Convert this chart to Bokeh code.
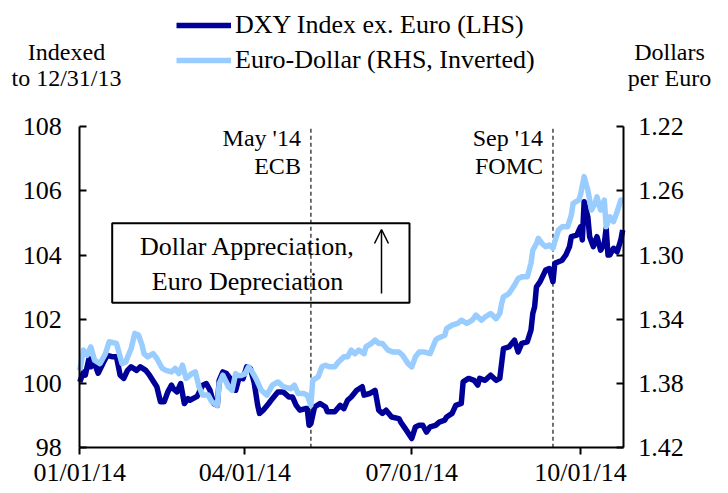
import pandas as pd
from bokeh.plotting import figure
from bokeh.models import (Range1d, LinearAxis, FixedTicker, DatetimeTickFormatter,
                          NumeralTickFormatter, Label, BoxAnnotation, Arrow,
                          OpenHead, Legend, LegendItem, ColumnDataSource)
from bokeh.embed import file_html
from bokeh.resources import INLINE

# ---------------- data ----------------
dxy_dates = [
    "2014-01-01", "2014-01-03", "2014-01-04", "2014-01-06", "2014-01-07", "2014-01-09",
    "2014-01-11", "2014-01-14", "2014-01-16", "2014-01-19", "2014-01-21", "2014-01-23",
    "2014-01-25", "2014-01-27", "2014-01-29", "2014-02-01", "2014-02-03", "2014-02-06",
    "2014-02-08", "2014-02-12", "2014-02-14", "2014-02-16", "2014-02-18", "2014-02-20",
    "2014-02-21", "2014-02-23", "2014-02-25", "2014-02-27", "2014-03-01", "2014-03-02",
    "2014-03-06", "2014-03-09", "2014-03-11", "2014-03-13", "2014-03-15", "2014-03-17",
    "2014-03-18", "2014-03-20", "2014-03-22", "2014-03-24", "2014-03-26", "2014-03-27",
    "2014-03-29", "2014-03-31", "2014-04-02", "2014-04-04", "2014-04-06", "2014-04-08",
    "2014-04-09", "2014-04-11", "2014-04-14", "2014-04-16", "2014-04-19", "2014-04-22",
    "2014-04-25", "2014-04-27", "2014-04-29", "2014-05-01", "2014-05-04", "2014-05-05",
    "2014-05-06", "2014-05-07", "2014-05-09", "2014-05-12", "2014-05-15", "2014-05-16",
    "2014-05-18", "2014-05-20", "2014-05-23", "2014-05-25", "2014-05-27", "2014-05-29",
    "2014-06-01", "2014-06-04", "2014-06-05", "2014-06-08", "2014-06-11", "2014-06-13",
    "2014-06-15", "2014-06-17", "2014-06-20", "2014-06-24", "2014-06-25", "2014-06-28",
    "2014-07-01", "2014-07-03", "2014-07-05", "2014-07-07", "2014-07-09", "2014-07-11",
    "2014-07-14", "2014-07-16", "2014-07-19", "2014-07-20", "2014-07-23", "2014-07-25",
    "2014-07-28", "2014-07-29", "2014-08-01", "2014-08-04", "2014-08-06", "2014-08-07",
    "2014-08-10", "2014-08-13", "2014-08-16", "2014-08-18", "2014-08-20", "2014-08-23",
    "2014-08-26", "2014-08-28", "2014-08-30", "2014-09-02", "2014-09-04", "2014-09-05",
    "2014-09-06", "2014-09-07", "2014-09-09", "2014-09-12", "2014-09-14", "2014-09-16",
    "2014-09-17", "2014-09-19", "2014-09-21", "2014-09-23", "2014-09-25", "2014-09-26",
    "2014-09-29", "2014-10-01", "2014-10-02", "2014-10-03", "2014-10-05", "2014-10-06",
    "2014-10-08", "2014-10-10", "2014-10-12", "2014-10-14", "2014-10-15", "2014-10-16",
    "2014-10-17", "2014-10-19", "2014-10-21", "2014-10-23", "2014-10-24",
]
dxy_values = [
    100.05, 100.36, 100.26, 100.78, 100.52, 100.63,
    100.32, 100.67, 100.88, 100.83, 100.83, 100.26,
    100.16, 100.41, 100.52, 100.41, 100.52, 100.41,
    100.26, 99.90, 99.43, 99.43, 99.74, 99.95,
    99.84, 99.74, 100.00, 99.38, 99.53, 99.48,
    99.60, 99.95, 100.00, 99.79, 99.38, 99.32,
    100.10, 100.36, 100.31, 100.16, 99.95, 99.79,
    100.21, 100.15, 100.52, 100.47, 100.05, 99.32,
    99.07, 99.17, 99.38, 99.53, 99.74, 99.74,
    99.58, 99.58, 99.32, 99.17, 99.22, 99.22,
    98.70, 98.75, 99.27, 99.38, 99.27, 99.12,
    99.12, 99.12, 99.32, 99.22, 99.48, 99.58,
    99.79, 99.90, 99.64, 99.69, 99.79, 99.17,
    99.07, 99.17, 98.96, 98.91, 98.80, 98.55,
    98.29, 98.65, 98.70, 98.70, 98.49, 98.65,
    98.70, 98.80, 98.86, 98.96, 99.07, 99.32,
    99.38, 100.05, 100.16, 100.10, 99.95, 100.16,
    100.10, 100.26, 100.10, 100.16, 101.09, 101.14,
    101.35, 100.98, 101.25, 101.30, 101.66, 102.18,
    102.39, 103.01, 103.17, 103.53, 103.58, 103.17,
    103.74, 103.79, 103.84, 104.00, 104.26, 104.57,
    104.62, 104.88, 104.47, 105.66, 105.19, 104.57,
    104.26, 104.57, 104.15, 104.36, 104.83, 104.00,
    104.00, 104.21, 104.10, 104.47, 104.78,
]

eur_dates = [
    "2014-01-01", "2014-01-03", "2014-01-05", "2014-01-07", "2014-01-09", "2014-01-12",
    "2014-01-15", "2014-01-17", "2014-01-21", "2014-01-24", "2014-01-26", "2014-01-29",
    "2014-01-31", "2014-02-02", "2014-02-04", "2014-02-05", "2014-02-07", "2014-02-10",
    "2014-02-12", "2014-02-14", "2014-02-15", "2014-02-17", "2014-02-20", "2014-02-22",
    "2014-02-24", "2014-02-26", "2014-02-28", "2014-03-03", "2014-03-05", "2014-03-07",
    "2014-03-09", "2014-03-12", "2014-03-14", "2014-03-17", "2014-03-18", "2014-03-20",
    "2014-03-23", "2014-03-25", "2014-03-27", "2014-03-28", "2014-03-30", "2014-04-01",
    "2014-04-03", "2014-04-05", "2014-04-07", "2014-04-10", "2014-04-13", "2014-04-16",
    "2014-04-19", "2014-04-22", "2014-04-26", "2014-04-28", "2014-04-30", "2014-05-03",
    "2014-05-05", "2014-05-07", "2014-05-08", "2014-05-11", "2014-05-13", "2014-05-15",
    "2014-05-17", "2014-05-20", "2014-05-22", "2014-05-25", "2014-05-27", "2014-05-29",
    "2014-05-31", "2014-06-02", "2014-06-05", "2014-06-06", "2014-06-09", "2014-06-11",
    "2014-06-13", "2014-06-15", "2014-06-18", "2014-06-21", "2014-06-24", "2014-06-26",
    "2014-06-29", "2014-07-01", "2014-07-03", "2014-07-05", "2014-07-08", "2014-07-11",
    "2014-07-14", "2014-07-15", "2014-07-19", "2014-07-20", "2014-07-23", "2014-07-26",
    "2014-07-28", "2014-07-31", "2014-08-03", "2014-08-05", "2014-08-08", "2014-08-10",
    "2014-08-13", "2014-08-16", "2014-08-18", "2014-08-19", "2014-08-20", "2014-08-23",
    "2014-08-26", "2014-08-28", "2014-08-30", "2014-09-02", "2014-09-04", "2014-09-05",
    "2014-09-07", "2014-09-08", "2014-09-10", "2014-09-12", "2014-09-14", "2014-09-16",
    "2014-09-17", "2014-09-19", "2014-09-21", "2014-09-24", "2014-09-26", "2014-09-27",
    "2014-09-30", "2014-10-01", "2014-10-03", "2014-10-05", "2014-10-07", "2014-10-09",
    "2014-10-10", "2014-10-12", "2014-10-14", "2014-10-15", "2014-10-17", "2014-10-19",
    "2014-10-21", "2014-10-23", "2014-10-24",
]
eur_values = [
    1.3718, 1.3592, 1.3624, 1.3572, 1.3654, 1.3676,
    1.3614, 1.3540, 1.3550, 1.3676, 1.3666, 1.3582,
    1.3488, 1.3498, 1.3562, 1.3614, 1.3634, 1.3614,
    1.3644, 1.3686, 1.3706, 1.3718, 1.3728, 1.3706,
    1.3738, 1.3686, 1.3768, 1.3738, 1.3728, 1.3820,
    1.3872, 1.3872, 1.3914, 1.3936, 1.3800, 1.3748,
    1.3820, 1.3842, 1.3738, 1.3750, 1.3750, 1.3740,
    1.3696, 1.3728, 1.3768, 1.3842, 1.3872, 1.3810,
    1.3790, 1.3820, 1.3832, 1.3810, 1.3862, 1.3862,
    1.3872, 1.3936, 1.3780, 1.3758, 1.3696, 1.3686,
    1.3696, 1.3696, 1.3666, 1.3634, 1.3634, 1.3592,
    1.3614, 1.3592, 1.3614, 1.3572, 1.3550, 1.3530,
    1.3550, 1.3550, 1.3592, 1.3604, 1.3604, 1.3624,
    1.3676, 1.3696, 1.3634, 1.3604, 1.3604, 1.3614,
    1.3530, 1.3520, 1.3500, 1.3458, 1.3436, 1.3426,
    1.3406, 1.3426, 1.3406, 1.3374, 1.3406, 1.3386,
    1.3364, 1.3396, 1.3364, 1.3302, 1.3260, 1.3240,
    1.3188, 1.3146, 1.3136, 1.3136, 1.3052, 1.2970,
    1.2928, 1.2896, 1.2928, 1.2948, 1.2938, 1.2958,
    1.2918, 1.2844, 1.2824, 1.2824, 1.2752, 1.2678,
    1.2658, 1.2626, 1.2512, 1.2596, 1.2720, 1.2678,
    1.2638, 1.2720, 1.2658, 1.2824, 1.2762, 1.2792,
    1.2730, 1.2658, 1.2668,
]

event_dates = ["2014-05-07", "2014-09-16"]
event_names = ["May '14", "Sep '14"]
event_bodies = ["ECB", "FOMC"]

x_tick_dates = ["2014-01-01", "2014-04-01", "2014-07-01", "2014-10-01"]
x_start, x_end = "2014-01-01", "2014-10-24 07:00"
left_ticks = [98, 100, 102, 104, 106, 108]
right_ticks = [1.22, 1.26, 1.30, 1.34, 1.38, 1.42]

series_names = ["DXY Index ex. Euro (LHS)", "Euro-Dollar (RHS, Inverted)"]
left_title = ["Indexed", "to 12/31/13"]
right_title = ["Dollars", "per Euro"]
box_text = ["Dollar Appreciation,", "Euro Depreciation"]

# ---------------- layout (pixels) ----------------
W, H = 720, 493
PX_L, PX_R, PX_T, PX_B = 79.3, 622.7, 126.0, 447.3   # plot area edges on canvas

FONT = "Liberation Serif"
DARK = "#000099"
LIGHT = "#99CCFF"


def ms(d):
    return pd.Timestamp(d).value / 1e6


# ranges extended so that the frame is the whole canvas; axes are pinned
x0, x1 = ms(x_start), ms(x_end)
xpp = (x1 - x0) / (PX_R - PX_L)
y0, y1 = left_ticks[0], left_ticks[-1]
ypp = (y1 - y0) / (PX_B - PX_T)
e_lo, e_hi = right_ticks[0], right_ticks[-1]
epp = (e_hi - e_lo) / (PX_B - PX_T)

p = figure(
    width=W, height=H, min_border=0,
    x_axis_type="datetime",
    x_range=Range1d(start=x0 - PX_L * xpp, end=x1 + (W - PX_R) * xpp),
    y_range=Range1d(start=y0 - (H - PX_B) * ypp, end=y1 + PX_T * ypp),
    output_backend="svg", toolbar_location=None,
    background_fill_color="white", border_fill_color="white",
)
p.outline_line_color = None
p.xgrid.visible = False
p.ygrid.visible = False
p.extra_y_ranges = {"eur": Range1d(start=e_hi + (H - PX_B) * epp, end=e_lo - PX_T * epp)}

src_dxy = ColumnDataSource(dict(x=pd.to_datetime(dxy_dates), y=dxy_values))
src_eur = ColumnDataSource(dict(x=pd.to_datetime(eur_dates), y=eur_values))

# event lines (drawn first, beneath the series)
p.segment(x0=[ms(d) for d in event_dates], y0=[y0] * len(event_dates),
          x1=[ms(d) for d in event_dates], y1=[y1] * len(event_dates),
          line_color="#444444", line_dash="4 3", line_width=1.5)

r_dxy = p.line("x", "y", source=src_dxy, line_color=DARK, line_width=5.5, line_join="round")
r_eur = p.line("x", "y", source=src_eur, line_color=LIGHT, line_width=5.5, line_join="round",
               y_range_name="eur")

# axes
right_axis = LinearAxis(y_range_name="eur")
p.add_layout(right_axis, "right")


def style_axis(ax):
    ax.axis_line_color = "black"
    ax.axis_line_width = 2
    ax.major_tick_line_color = "black"
    ax.major_tick_line_width = 2
    ax.minor_tick_line_color = None
    ax.major_label_text_font = FONT
    ax.major_label_text_font_size = "26px"
    ax.major_label_text_color = "black"


for ax in [p.xaxis[0], p.yaxis[0], right_axis]:
    style_axis(ax)

xa = p.xaxis[0]
xa.fixed_location = y0
xa.bounds = (x0, x1)
xa.ticker = FixedTicker(ticks=[ms(d) for d in x_tick_dates])
fmt = "%m/%d/%y"
xa.formatter = DatetimeTickFormatter(
    milliseconds=fmt, seconds=fmt, minsec=fmt, minutes=fmt, hourmin=fmt,
    hours=fmt, days=fmt, months=fmt, years=fmt)
xa.major_tick_in = 0
xa.major_tick_out = 7
xa.major_label_standoff = 3

ya = p.yaxis[0]
ya.fixed_location = x0
ya.bounds = (y0, y1)
ya.ticker = FixedTicker(ticks=left_ticks)
ya.major_tick_in = 7
ya.major_tick_out = 0
ya.major_label_standoff = 18

right_axis.fixed_location = x1
right_axis.bounds = (e_lo, e_hi)
right_axis.ticker = FixedTicker(ticks=right_ticks)
right_axis.formatter = NumeralTickFormatter(format="0.00")
right_axis.major_tick_in = 7
right_axis.major_tick_out = 0
right_axis.major_label_standoff = 15


def label(text, px, py, size="24px", align="center"):
    """Text placed at canvas pixel (px, py) measured from top-left."""
    p.add_layout(Label(x=px, y=H - py, x_units="screen", y_units="screen", text=text,
                       text_font=FONT, text_font_size=size, text_align=align,
                       text_baseline="middle", text_color="black"))


# event labels, right-aligned just left of each line
for d, name, body in zip(event_dates, event_names, event_bodies):
    px = PX_L + (ms(d) - x0) / xpp - 10
    label(name, px, 137, align="right")
    label(body, px, 165, align="right")

# appreciation box
p.add_layout(BoxAnnotation(left=111.7, right=409, bottom=H - 302.3, top=H - 222.7,
                           left_units="screen", right_units="screen",
                           bottom_units="screen", top_units="screen",
                           fill_color=None, fill_alpha=0,
                           line_color="black", line_alpha=1.0, line_width=2))
label(box_text[0], 247, 246, size="26px")
label(box_text[1], 247, 281, size="26px")
p.add_layout(Arrow(end=OpenHead(size=14, line_width=1.5, line_color="black"),
                   x_start=381, y_start=H - 293, x_end=381, y_end=H - 229,
                   start_units="screen", end_units="screen",
                   line_width=1.5, line_color="black"))

# axis titles
label(left_title[0], 66, 51)
label(left_title[1], 66, 77)
label(right_title[0], 669, 51)
label(right_title[1], 669, 77)

# legend
legend = Legend(items=[LegendItem(label=series_names[0], renderers=[r_dxy]),
                       LegendItem(label=series_names[1], renderers=[r_eur])],
                location=(176, H - 75), orientation="vertical",
                padding=0, margin=0, spacing=5, border_line_color=None,
                background_fill_alpha=0, glyph_width=55, glyph_height=30,
                label_height=30, label_standoff=4,
                label_text_font=FONT, label_text_font_size="26px",
                label_text_color="black")
p.add_layout(legend)

with open("out.html", "w") as f:
    f.write(file_html(p, INLINE))
